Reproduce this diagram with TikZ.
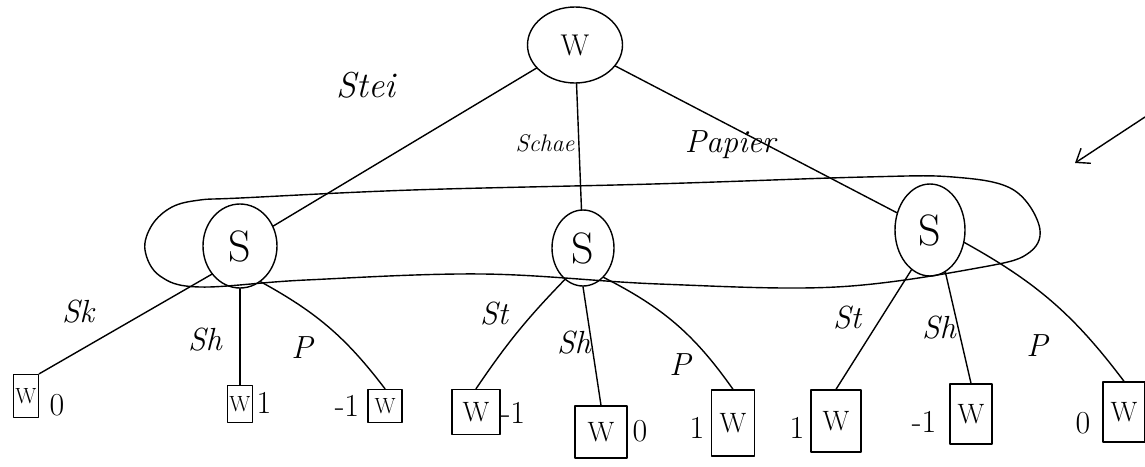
\documentclass[tikz,border=0pt]{standalone}
\usetikzlibrary{shapes.geometric,arrows.meta}
\begin{document}
\begin{tikzpicture}[x=1pt,y=-1pt,
  ln/.style={line width=1.4pt, line cap=round, line join=round},
  dm/.style={ln, draw, ellipse, inner sep=0pt},
  leaf/.style={ln, draw, rectangle, inner sep=0pt, font=\fontsize{28}{30}\selectfont},
  smallleaf/.style={leaf, font=\fontsize{22}{24}\selectfont},
  lbl/.style={inner sep=0pt, font=\itshape\fontsize{32}{34}\selectfont},
  pay/.style={inner sep=0pt, font=\fontsize{32}{34}\selectfont}]
\useasboundingbox (0,0) rectangle (1145,466);

% decision nodes
\node[dm, minimum width=95, minimum height=76, font=\fontsize{30}{32}\selectfont] (w) at (575,45) {W};
\node[dm, minimum width=74, minimum height=84, font=\fontsize{44}{46}\selectfont] (s1) at (240,246) {S};
\node[dm, minimum width=62, minimum height=76, font=\fontsize{44}{46}\selectfont] (s2) at (583,248) {S};
\node[dm, minimum width=70, minimum height=92, font=\fontsize{44}{46}\selectfont] (s3) at (930,230) {S};

% information set of S
\draw[ln] plot[smooth cycle, tension=0.6] coordinates {
  (240,198) (412,190) (653,184) (865,177) (953,177) (1012,189) (1039,225)
  (1030,252) (983,267) (836,287) (659,284) (483,274) (306,280) (200,287)
  (160,276) (145,250) (152,225) (172,207) (200,200)};

% terminal nodes
\node[smallleaf, minimum width=25, minimum height=43] (l1) at (26,396) {W};
\node[smallleaf, minimum width=25, minimum height=37] (l2) at (240,404) {W};
\node[smallleaf, minimum width=34, minimum height=33] (l3) at (385,406) {W};
\node[leaf, minimum width=48, minimum height=45] (l4) at (476,412) {W};
\node[leaf, minimum width=52, minimum height=52] (l5) at (601,432) {W};
\node[leaf, minimum width=43, minimum height=66] (l6) at (733,423) {W};
\node[leaf, minimum width=50, minimum height=62] (l7) at (836,421) {W};
\node[leaf, minimum width=42, minimum height=60] (l8) at (971,414) {W};
\node[leaf, minimum width=42, minimum height=60] (l9) at (1124,412) {W};

% moves of W
\draw[ln] (w) -- (s1);
\draw[ln] (w) -- (s2);
\draw[ln] (w) -- (s3);

% moves of S
\draw[ln] (s1.225) -- (l1.north east);
\draw[ln] (s1.south) -- (l2.north);
\draw[ln] (s1.-60) to[bend left=12] (l3.north);
\draw[ln] (s2.-120) to[bend right=5] (l4.north);
\draw[ln] (s2.south) -- (l5.north);
\draw[ln] (s2.-55) to[bend left=14] (l6.north);
\draw[ln] (s3.-115) -- (l7.north);
\draw[ln] (s3.-70) -- (l8.north);
\draw[ln] (s3.-20) to[bend left=12] (l9.north);

% move labels
\node[lbl, font=\itshape\fontsize{36}{38}\selectfont] (tstei) at (366,85) {Stei};
\node[lbl, font=\itshape\fontsize{24}{26}\selectfont] (tschae) at (545,143) {Schae};
\node[lbl, font=\itshape\fontsize{32}{34}\selectfont] (tpapier) at (730,145) {Papier};
\node[lbl] (a1) at (78,312) {Sk};
\node[lbl] (a2) at (205,340) {Sh};
\node[lbl] (a3) at (302,348) {P};
\node[lbl] (b1) at (494,314) {St};
\node[lbl] (b2) at (574,343) {Sh};
\node[lbl] (b3) at (680,365) {P};
\node[lbl] (c1) at (847,318) {St};
\node[lbl] (c2) at (939,328) {Sh};
\node[lbl] (c3) at (1037,346) {P};

% payoffs
\node[pay] (p1) at (57,405) {0};
\node[pay] (p2) at (264,403) {1};
\node[pay] (p3) at (347,406) {-1};
\node[pay] (p4) at (513,413) {-1};
\node[pay] (p5) at (640,431) {0};
\node[pay] (p6) at (697,428) {1};
\node[pay] (p7) at (797,428) {1};
\node[pay] (p8) at (924,422) {-1};
\node[pay] (p9) at (1083,423) {0};

% pointer at the right margin
\coordinate (ptail) at (1145,117);
\coordinate (phead) at (1075,163);
\draw[ln, -{Straight Barb[length=12pt,width=18pt]}] (ptail) -- (phead);
\end{tikzpicture}
\end{document}
